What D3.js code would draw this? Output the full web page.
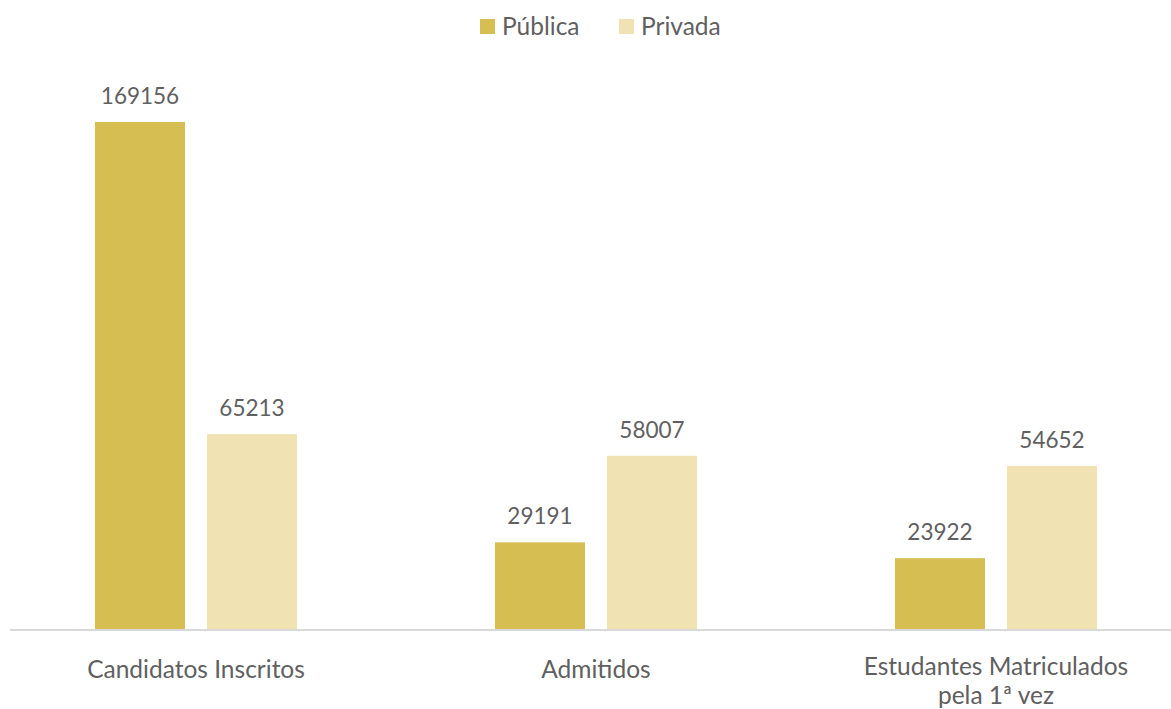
<!DOCTYPE html>
<html><head><meta charset="utf-8">
<script src="https://cdn.jsdelivr.net/npm/d3@7"></script>
<style>body{margin:0;background:#fff;} svg{display:block;}</style>
</head><body>
<svg id="c" width="1171" height="709"></svg>
<script>
const categories = [["Candidatos Inscritos"], ["Admitidos"], ["Estudantes Matriculados", "pela 1ª vez"]];
const seriesNames = ["Pública", "Privada"];
const publica = [169156, 29191, 23922];
const privada = [65213, 58007, 54652];
const colors = ["#d6be53", "#f0e2b2"];

const svg = d3.select("#c");
const font = "Lato, 'Open Sans', sans-serif";
const weight = 400;
const textColor = "#606060";
const baseY = 630;
const catKeys = categories.map(c => c.join(" "));
const x0 = d3.scaleBand().domain(catKeys).range([-4, 1196]).padding(0);
const x1 = d3.scaleBand().domain(seriesNames).range([0, 202]).paddingInner(0.1964).paddingOuter(0);
const y = d3.scaleLinear().domain([0, 169156]).range([baseY, 122]);

const data = catKeys.map((k, i) => ({k, vals: [publica[i], privada[i]]}));

const g = svg.append("g");
const groups = g.selectAll("g.cat").data(data).join("g")
  .attr("transform", d => `translate(${x0(d.k) + (x0.bandwidth() - 202) / 2},0)`);

groups.selectAll("rect").data(d => d.vals.map((v, j) => ({s: seriesNames[j], v, j}))).join("rect")
  .attr("x", d => x1(d.s)).attr("width", x1.bandwidth())
  .attr("y", d => y(d.v)).attr("height", d => baseY - y(d.v))
  .attr("fill", d => colors[d.j]);

groups.selectAll("text.val").data(d => d.vals.map((v, j) => ({s: seriesNames[j], v, j}))).join("text")
  .attr("class", "val")
  .attr("x", d => x1(d.s) + x1.bandwidth() / 2)
  .attr("y", d => y(d.v) - 18)
  .attr("text-anchor", "middle")
  .attr("font-family", font).attr("font-weight", weight).attr("font-size", 22.5).attr("fill", textColor)
  .text(d => d.v);

// axis line
const axis = d3.axisBottom(x0).tickSize(0).tickFormat("");
const ax = svg.append("g").attr("transform", `translate(0,${baseY})`).call(axis);
ax.select(".domain").attr("d", "M10,0H1171").attr("stroke", "#d9d9d9").attr("stroke-width", 2);

// category labels
categories.forEach((lines, i) => {
  const cx = x0(catKeys[i]) + x0.bandwidth() / 2;
  const t = svg.append("text")
    .attr("x", cx).attr("y", lines.length > 1 ? 675 : 678)
    .attr("text-anchor", "middle")
    .attr("font-family", font).attr("font-weight", weight).attr("font-size", 24.5).attr("fill", textColor);
  lines.forEach((l, j) => t.append("tspan").attr("x", cx).attr("dy", j === 0 ? 0 : 29).text(l));
});

// legend
const legendX = [480, 619];
seriesNames.forEach((s, i) => {
  svg.append("rect").attr("x", legendX[i]).attr("y", 19).attr("width", 15).attr("height", 15).attr("fill", colors[i]);
  svg.append("text").attr("x", legendX[i] + 22).attr("y", 35)
    .attr("font-family", font).attr("font-weight", weight).attr("font-size", 24.5).attr("fill", textColor).text(s);
});
</script>
</body></html>
